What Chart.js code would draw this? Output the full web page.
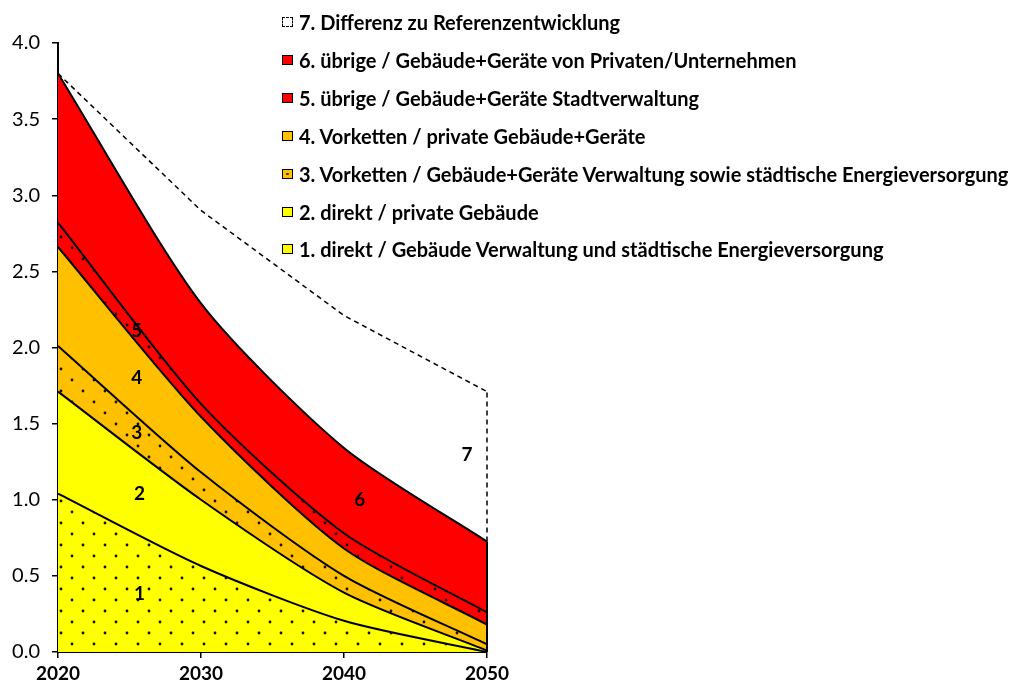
<!DOCTYPE html>
<html>
<head>
<meta charset="utf-8">
<script src="https://cdn.jsdelivr.net/npm/chart.js@4.4.0/dist/chart.umd.min.js"></script>
<style>
  body{margin:0;background:#fff;}
  #wrap{position:relative;width:1015px;height:684px;}
  #legend{position:absolute;left:282px;top:0;font-family:Lato,sans-serif;font-weight:bold;font-size:20px;color:#000;}
  .item{position:absolute;left:0;white-space:nowrap;height:22px;line-height:22px;}
  .box{position:absolute;left:0;top:6px;width:9px;height:8px;border:1px solid #000;}
  .txt{position:absolute;left:17px;top:0;}
</style>
</head>
<body>
<div id="wrap">
  <canvas id="chart" width="1015" height="684"></canvas>
  <div id="legend"></div>
</div>
<script>
// Daten
var jahre = ["2020", "2030", "2040", "2050"];
var direktVerwaltung = [1.04, 0.565, 0.205, 0.0];
var direktPrivat = [0.67, 0.435, 0.185, 0.01];
var vorkettenVerwaltung = [0.30, 0.18, 0.11, 0.04];
var vorkettenPrivat = [0.65, 0.365, 0.18, 0.13];
var uebrigeVerwaltung = [0.16, 0.085, 0.10, 0.08];
var uebrigePrivat = [0.98, 0.66, 0.56, 0.465];
var differenzReferenz = [0.0, 0.61, 0.87, 0.985];

var namen = [
  "1. direkt / Gebäude Verwaltung und städtische Energieversorgung",
  "2. direkt / private Gebäude",
  "3. Vorketten /  Gebäude+Geräte Verwaltung sowie städtische Energieversorgung",
  "4. Vorketten / private Gebäude+Geräte",
  "5. übrige / Gebäude+Geräte Stadtverwaltung",
  "6. übrige / Gebäude+Geräte von Privaten/Unternehmen",
  "7. Differenz zu Referenzentwicklung"
];

var GELB = "#FFFF00", ORANGE = "#FFC000", ROT = "#FF0000";

var canvas = document.getElementById("chart");
var ctx = canvas.getContext("2d");

function punkte(farbe){
  var c = document.createElement("canvas");
  c.width = 22; c.height = 22;
  var g = c.getContext("2d");
  g.fillStyle = farbe; g.fillRect(0, 0, 22, 22);
  g.fillStyle = "#111";
  g.beginPath(); g.arc(6, 6, 1.4, 0, Math.PI * 2); g.fill();
  g.beginPath(); g.arc(17, 17, 1.4, 0, Math.PI * 2); g.fill();
  return ctx.createPattern(c, "repeat");
}

function serie(i, daten, fuellung){
  return {
    label: namen[i],
    data: daten,
    backgroundColor: fuellung,
    borderColor: "#000",
    borderWidth: 2,
    fill: i === 0 ? "origin" : "-1",
    tension: 0.25,
    pointRadius: 0
  };
}

var datensaetze = [
  serie(0, direktVerwaltung, punkte(GELB)),
  serie(1, direktPrivat, GELB),
  serie(2, vorkettenVerwaltung, punkte(ORANGE)),
  serie(3, vorkettenPrivat, ORANGE),
  serie(4, uebrigeVerwaltung, punkte(ROT)),
  serie(5, uebrigePrivat, ROT),
  {
    label: namen[6],
    data: differenzReferenz,
    backgroundColor: "rgba(0,0,0,0)",
    borderColor: "#000",
    borderWidth: 1.5,
    borderDash: [5, 4],
    fill: "-1",
    tension: 0,
    pointRadius: 0
  }
];

// Beschriftung der Flächen (Position entlang der Achse, Höhe = Mitte der Fläche)
var flaechenText = [
  {t: "1", ds: 0, at: 0.57},
  {t: "2", ds: 1, at: 0.57},
  {t: "3", ds: 2, at: 0.55},
  {t: "4", ds: 3, at: 0.55},
  {t: "5", ds: 4, at: 0.55},
  {t: "6", ds: 5, at: 2.11},
  {t: "7", ds: 6, at: 2.86}
];

function summeBis(i, t){
  var k = Math.min(Math.floor(t), jahre.length - 2), f = t - k, s = 0;
  for (var j = 0; j <= i; j++){
    var d = datensaetze[j].data;
    s += d[k] + (d[k + 1] - d[k]) * f;
  }
  return s;
}

var extras = {
  id: "extras",
  afterDatasetsDraw: function(chart){
    var c = chart.ctx, n = jahre.length - 1;
    var p6 = chart.getDatasetMeta(5).data[n];
    var p7 = chart.getDatasetMeta(6).data[n];
    var y0 = chart.scales.y.getPixelForValue(0);
    c.save();
    c.strokeStyle = "#000";
    c.lineWidth = 2;
    c.beginPath(); c.moveTo(p6.x, y0); c.lineTo(p6.x, p6.y); c.stroke();
    c.lineWidth = 1.5;
    c.setLineDash([5, 4]);
    c.beginPath(); c.moveTo(p7.x, p6.y); c.lineTo(p7.x, p7.y); c.stroke();
    c.setLineDash([]);
    c.fillStyle = "#000";
    c.font = "bold 19px Lato";
    c.textAlign = "center";
    c.textBaseline = "middle";
    flaechenText.forEach(function(l){
      var unten = l.ds === 0 ? 0 : summeBis(l.ds - 1, l.at);
      var oben = summeBis(l.ds, l.at);
      var x = chart.scales.x.getPixelForValue(l.at);
      var y = chart.scales.y.getPixelForValue((unten + oben) / 2);
      c.fillText(l.t, x, y);
    });
    c.restore();
  }
};

window.flaeche = new Chart(ctx, {
  type: "line",
  data: {labels: jahre, datasets: datensaetze},
  plugins: [extras],
  options: {
    responsive: false,
    animation: false,
    layout: {padding: {left: 0, top: 43, right: 528, bottom: 0}},
    plugins: {legend: {display: false}, tooltip: {enabled: false}},
    scales: {
      x: {
        offset: false,
        grid: {drawOnChartArea: false, color: "#000", tickLength: 6, lineWidth: 1.5},
        border: {color: "#000", width: 2},
        ticks: {color: "#000", font: {family: "Lato", weight: "bold", size: 19}, padding: 4, maxRotation: 0},
        afterFit: function(s){ s.height = 32; }
      },
      y: {
        stacked: true,
        min: 0,
        max: 4,
        grid: {drawOnChartArea: false, color: "#000", tickLength: 6, lineWidth: 1.5},
        border: {color: "#000", width: 2},
        ticks: {stepSize: 0.5, color: "#000", font: {family: "Lato", size: 20}, padding: 12,
          callback: function(v){ return v.toFixed(1); }},
        afterFit: function(s){ s.width = 58; }
      }
    }
  }
});

// Legende (umgekehrte Reihenfolge)
var leg = document.getElementById("legend");
var kaesten = [GELB, GELB, ORANGE, ORANGE, ROT, ROT, "#fff"];
for (var i = 6; i >= 0; i--){
  var it = document.createElement("div");
  it.className = "item";
  it.style.top = (11 + (6 - i) * 37.9) + "px";
  var b = document.createElement("span");
  b.className = "box";
  b.style.background = kaesten[i];
  if (i === 6) b.style.border = "1px dashed #000";
  if (i === 2) b.style.backgroundImage = "radial-gradient(circle, #333 1px, transparent 1.5px)";
  var s = document.createElement("span");
  s.className = "txt";
  s.textContent = namen[i];
  it.appendChild(b); it.appendChild(s);
  leg.appendChild(it);
}
</script>
</body>
</html>
